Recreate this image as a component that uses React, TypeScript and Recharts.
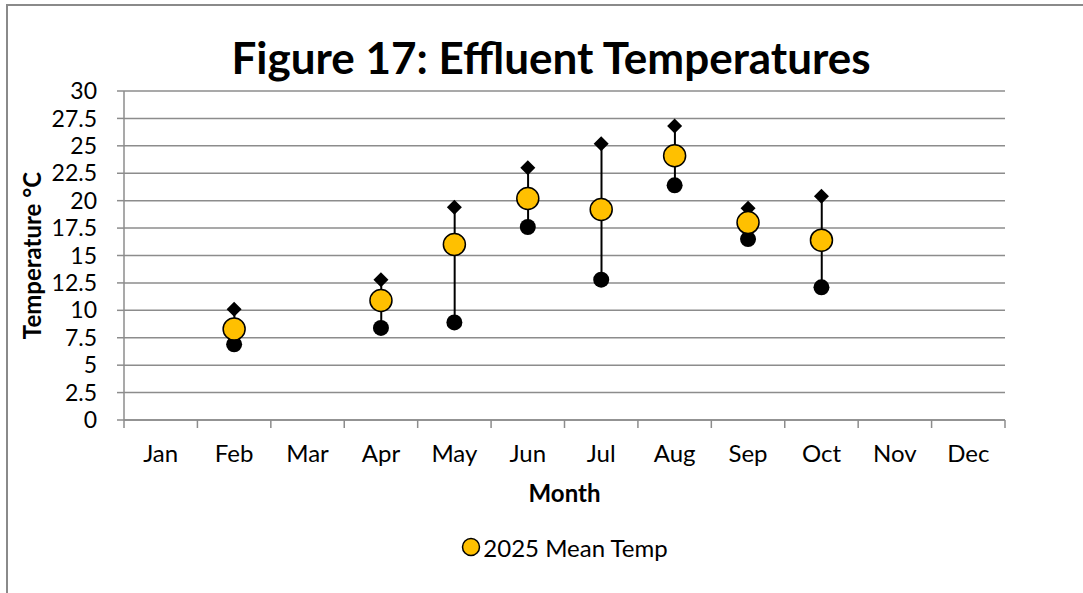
import React from 'react';
import {
  ComposedChart,
  Bar,
  Scatter,
  XAxis,
  YAxis,
  CartesianGrid,
  Legend,
} from 'recharts';

const months = ['Jan', 'Feb', 'Mar', 'Apr', 'May', 'Jun', 'Jul', 'Aug', 'Sep', 'Oct', 'Nov', 'Dec'];
const maxTemp = [null, 10.1, null, 12.8, 19.4, 23.0, 25.2, 26.8, 19.3, 20.4, null, null];
const minTemp = [null, 6.9, null, 8.4, 8.9, 17.6, 12.8, 21.4, 16.5, 12.1, null, null];
const meanTemp = [null, 8.3, null, 10.9, 16.0, 20.2, 19.2, 24.1, 18.0, 16.4, null, null];
const yTicks = [0, 2.5, 5, 7.5, 10, 12.5, 15, 17.5, 20, 22.5, 25, 27.5, 30];

const data = months.map((month, i) => ({
  month,
  max: maxTemp[i],
  min: minTemp[i],
  mean: meanTemp[i],
  range: minTemp[i] != null && maxTemp[i] != null ? [minTemp[i], maxTemp[i]] : null,
}));

const FONT = 'Lato, "Open Sans", sans-serif';
const GRID = '#8c8c8c';
const YELLOW = '#FFC000';

const Diamond = (props: any) => {
  const { cx, cy } = props;
  if (cx == null || cy == null) return null;
  const r = 7.5;
  return <polygon points={`${cx},${cy - r} ${cx + r},${cy} ${cx},${cy + r} ${cx - r},${cy}`} fill="#000" />;
};

const MinDot = (props: any) => {
  const { cx, cy } = props;
  if (cx == null || cy == null) return null;
  return <circle cx={cx} cy={cy} r={8} fill="#000" />;
};

const MeanDot = (props: any) => {
  const { cx, cy } = props;
  if (cx == null || cy == null) return null;
  return <circle cx={cx} cy={cy} r={11} fill={YELLOW} stroke="#000" strokeWidth={1.5} />;
};

// month label at the band centre, tick marks on the band edges (Excel style)
const MonthTick = (props: any) => {
  const { x, y, width, visibleTicksCount, index, payload } = props;
  const band = width / visibleTicksCount;
  const left = x - band / 2;
  return (
    <g>
      <line x1={left} y1={y} x2={left} y2={y + 8} stroke={GRID} strokeWidth={1.5} />
      {index === visibleTicksCount - 1 && (
        <line x1={left + band} y1={y} x2={left + band} y2={y + 8} stroke={GRID} strokeWidth={1.5} />
      )}
      <text x={x} y={y + 25} dy="0.71em" textAnchor="middle" fontFamily={FONT} fontSize={24} fill="#000">
        {payload.value}
      </text>
    </g>
  );
};

const LegendContent = () => (
  <div style={{ height: 70, display: 'flex', justifyContent: 'center', paddingLeft: 124, boxSizing: 'border-box' }}>
    <div
      style={{
        position: 'relative',
        top: 9,
        display: 'flex',
        alignItems: 'center',
        height: 30,
        fontFamily: FONT,
        fontSize: 24,
        color: '#000',
      }}
    >
      <svg width={20} height={20} style={{ marginRight: 2 }}>
        <circle cx={10} cy={10} r={8.5} fill={YELLOW} stroke="#000" strokeWidth={1.5} />
      </svg>
      2025 Mean Temp
    </div>
  </div>
);

export default function App() {
  return (
    <div style={{ position: 'fixed', top: 0, left: 0, width: 1083, height: 593, overflow: 'hidden', background: '#fff' }}>
      <div
        style={{
          position: 'absolute',
          left: 6,
          top: 4,
          width: 1200,
          height: 700,
          border: '2px solid #8a8a8a',
        }}
      />
      <div
        style={{
          position: 'absolute',
          top: 29,
          left: 0,
          width: 1102,
          textAlign: 'center',
          fontFamily: FONT,
          fontWeight: 700,
          fontSize: 44,
          lineHeight: '56px',
          color: '#000',
        }}
      >
        Figure 17: Effluent Temperatures
      </div>
      <div style={{ position: 'absolute', top: 0, left: 0 }}>
        <ComposedChart width={1083} height={593} data={data} margin={{ top: 91, right: 78, left: 0, bottom: 0 }}>
          <CartesianGrid vertical={false} stroke={GRID} strokeWidth={1.5} />
          <XAxis
            dataKey="month"
            height={103}
            axisLine={{ stroke: GRID, strokeWidth: 1.5 }}
            tickLine={false}
            tickSize={0}
            tickMargin={0}
            tick={MonthTick}
            interval={0}
            label={{
              content: (p: any) => {
                const vb = p.viewBox;
                return (
                  <text
                    x={vb.x + vb.width / 2}
                    y={vb.y + 82}
                    textAnchor="middle"
                    fontFamily={FONT}
                    fontWeight={700}
                    fontSize={24}
                    fill="#000"
                  >
                    Month
                  </text>
                );
              },
            }}
          />
          <YAxis
            width={124}
            domain={[0, 30]}
            ticks={yTicks}
            interval={0}
            axisLine={{ stroke: GRID, strokeWidth: 1.5 }}
            tickLine={{ stroke: GRID, strokeWidth: 1.5 }}
            tickSize={7}
            tickMargin={20}
            tick={{ fill: '#000', fontSize: 23, fontFamily: FONT }}
            label={{
              content: (p: any) => {
                const vb = p.viewBox;
                const cy = vb.y + vb.height / 2;
                return (
                  <text
                    x={31}
                    y={cy}
                    transform={`rotate(-90, 31, ${cy})`}
                    textAnchor="middle"
                    dominantBaseline="central"
                    fontFamily={FONT}
                    fontWeight={700}
                    fontSize={24}
                    fill="#000"
                  >
                    Temperature °C
                  </text>
                );
              },
            }}
          />
          <Bar dataKey="range" barSize={2} fill="#000" isAnimationActive={false} legendType="none" />
          <Scatter dataKey="max" shape={Diamond} isAnimationActive={false} legendType="none" />
          <Scatter dataKey="min" shape={MinDot} isAnimationActive={false} legendType="none" />
          <Scatter dataKey="mean" name="2025 Mean Temp" shape={MeanDot} isAnimationActive={false} />
          <Legend verticalAlign="bottom" height={70} content={LegendContent} />
        </ComposedChart>
      </div>
    </div>
  );
}
